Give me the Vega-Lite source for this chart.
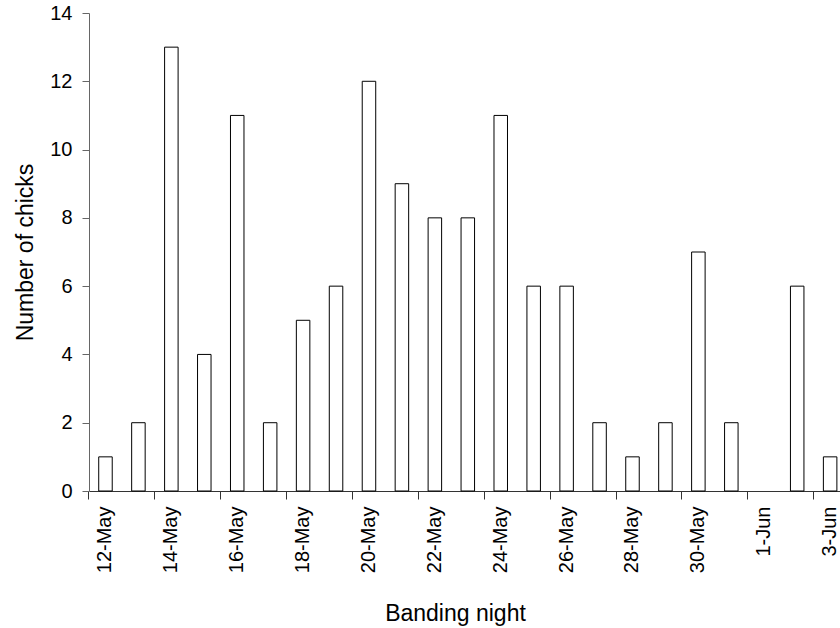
{
  "$schema": "https://vega.github.io/schema/vega-lite/v6.json",
  "autosize": {"type": "none"},
  "padding": {"left": 89, "top": 13, "right": 0, "bottom": 137},
  "width": 751,
  "height": 478,
  "background": "white",
  "config": {
    "view": {"stroke": null},
    "font": "Liberation Sans"
  },
  "data": {
    "values": [
      {"night": "12-May", "chicks": 1},
      {"night": "13-May", "chicks": 2},
      {"night": "14-May", "chicks": 13},
      {"night": "15-May", "chicks": 4},
      {"night": "16-May", "chicks": 11},
      {"night": "17-May", "chicks": 2},
      {"night": "18-May", "chicks": 5},
      {"night": "19-May", "chicks": 6},
      {"night": "20-May", "chicks": 12},
      {"night": "21-May", "chicks": 9},
      {"night": "22-May", "chicks": 8},
      {"night": "23-May", "chicks": 8},
      {"night": "24-May", "chicks": 11},
      {"night": "25-May", "chicks": 6},
      {"night": "26-May", "chicks": 6},
      {"night": "27-May", "chicks": 2},
      {"night": "28-May", "chicks": 1},
      {"night": "29-May", "chicks": 2},
      {"night": "30-May", "chicks": 7},
      {"night": "31-May", "chicks": 2},
      {"night": "1-Jun", "chicks": 0},
      {"night": "2-Jun", "chicks": 6},
      {"night": "3-Jun", "chicks": 1}
    ]
  },
  "mark": {"type": "bar", "size": 13.5, "fill": "white", "stroke": "black", "strokeWidth": 1},
  "encoding": {
    "strokeOpacity": {"condition": {"test": "datum.chicks == 0", "value": 0}, "value": 1},
    "x": {
      "field": "night",
      "type": "nominal",
      "sort": null,
      "scale": {
        "type": "band",
        "domain": ["12-May","13-May","14-May","15-May","16-May","17-May","18-May","19-May","20-May","21-May","22-May","23-May","24-May","25-May","26-May","27-May","28-May","29-May","30-May","31-May","1-Jun","2-Jun","3-Jun"],
        "range": [0, 757.6],
        "paddingInner": 0,
        "paddingOuter": 0
      },
      "axis": {
        "bandPosition": 0,
        "labelExpr": "indexof(['12-May','14-May','16-May','18-May','20-May','22-May','24-May','26-May','28-May','30-May','1-Jun','3-Jun'], datum.value) >= 0 ? datum.label : ''",
        "tickOpacity": {"condition": {"test": "indexof(['12-May','14-May','16-May','18-May','20-May','22-May','24-May','26-May','28-May','30-May','1-Jun','3-Jun'], datum.value) >= 0", "value": 1}, "value": 0},
        "labelAngle": -90,
        "labelFontSize": 20,
        "labelColor": "black",
        "labelOverlap": false,
        "labelBound": false,
        "labelFlush": false,
        "tickSize": 8,
        "labelPadding": 7,
        "domainColor": "#333333",
        "tickColor": "#333333",
        "grid": false,
        "title": "Banding night",
        "titleFontSize": 23,
        "titleFontWeight": "normal",
        "titleColor": "black",
        "titleX": 366,
        "titleY": 129,
        "titleAlign": "center",
        "titleBaseline": "alphabetic"
      }
    },
    "y": {
      "field": "chicks",
      "type": "quantitative",
      "scale": {"domain": [0, 14], "nice": false, "zero": true},
      "axis": {
        "values": [0, 2, 4, 6, 8, 10, 12, 14],
        "format": "d",
        "grid": false,
        "tickSize": 7,
        "labelPadding": 10,
        "labelFontSize": 20,
        "labelColor": "black",
        "domainColor": "#666666",
        "tickColor": "#666666",
        "title": "Number of chicks",
        "titleFontSize": 23,
        "titleFontWeight": "normal",
        "titleColor": "black",
        "titleX": -57,
        "titleY": 239,
        "titleAngle": -90,
        "titleAlign": "center",
        "titleBaseline": "alphabetic"
      }
    }
  }
}
